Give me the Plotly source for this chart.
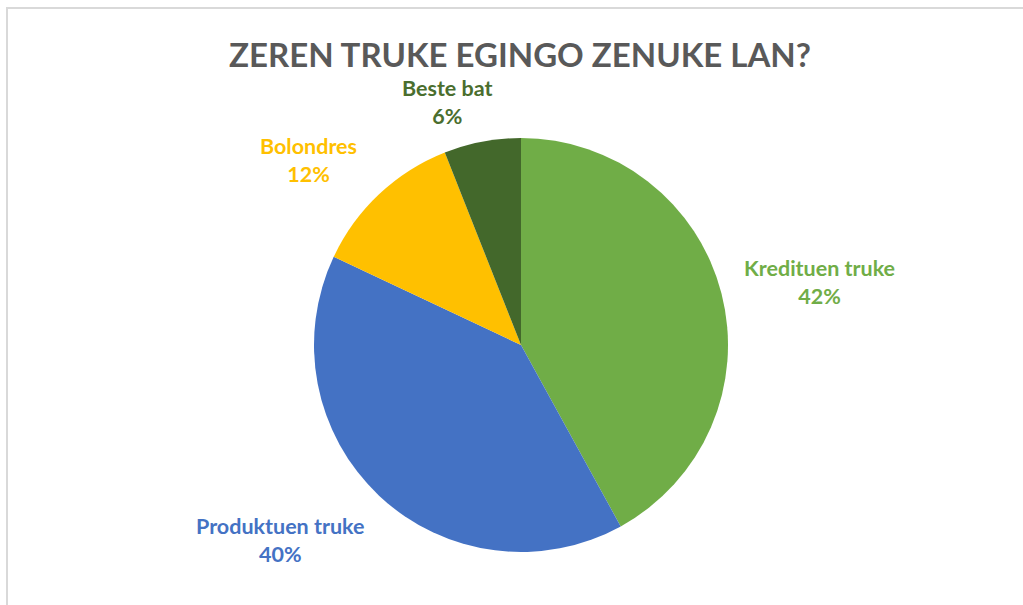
import plotly.graph_objects as go

labels = ["Kredituen truke", "Produktuen truke", "Bolondres", "Beste bat"]
values = [42, 40, 12, 6]
colors = ["#70AD47", "#4472C4", "#FFC000", "#43682B"]
label_colors = ["#70AD47", "#4472C4", "#FFC000", "#4A6E2E"]
title = "ZEREN TRUKE EGINGO ZENUKE LAN?"

W, H = 1023, 605
ML, MR, MT, MB = 100, 81, 138, 53
PW, PH = W - ML - MR, H - MT - MB

def px(x):
    return (x - ML) / PW

def py(y):
    return (H - MB - y) / PH

# label centres (reference pixels)
label_pos = [(819, 282), (280, 540), (308, 160), (447, 102)]

fig = go.Figure(go.Pie(
    labels=labels,
    values=values,
    marker=dict(colors=colors, line=dict(color="white", width=0)),
    sort=False,
    direction="clockwise",
    rotation=0,
    textinfo="none",
    hoverinfo="label+percent",
    showlegend=False,
))

total = sum(values)
annotations = []
for lab, v, c, (x, y) in zip(labels, values, label_colors, label_pos):
    annotations.append(dict(
        x=px(x), y=py(y), xref="paper", yref="paper",
        text=f"<b>{lab}<br>{round(100 * v / total)}%</b>",
        showarrow=False, xanchor="center", yanchor="middle",
        font=dict(family="Lato", size=21.5, color=c),
        align="center",
    ))

annotations.append(dict(
    x=px(520), y=py(54), xref="paper", yref="paper",
    text=f"<b>{title}</b>", showarrow=False,
    xanchor="center", yanchor="middle",
    font=dict(family="Lato", size=33, color="#595959"),
))

shapes = [
    dict(type="line", xref="paper", yref="paper",
         x0=px(6), x1=px(1030), y0=py(8), y1=py(8),
         line=dict(color="#D9D9D9", width=2)),
    dict(type="line", xref="paper", yref="paper",
         x0=px(7), x1=px(7), y0=py(8), y1=py(615),
         line=dict(color="#D9D9D9", width=2)),
]

fig.update_layout(
    width=W, height=H,
    margin=dict(l=ML, r=MR, t=MT, b=MB),
    paper_bgcolor="white", plot_bgcolor="white",
    annotations=annotations,
    shapes=shapes,
)

fig.write_html(
    "out.html",
    config={"displayModeBar": False},
    post_script="document.body.style.margin='0';document.body.style.overflow='hidden';",
)
